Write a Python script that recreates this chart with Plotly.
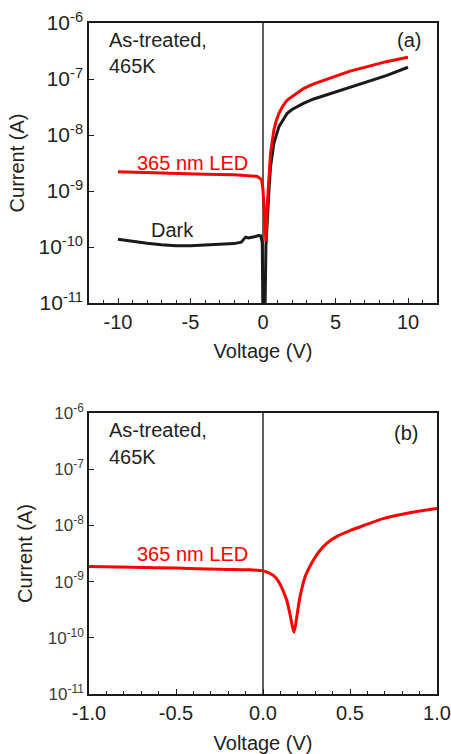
import plotly.graph_objects as go

# ---------------- data ----------------
# Panel (a): dark current
v_dark = [-10, -9, -8, -7, -6, -5, -4, -3, -2, -1.5, -1.2, -1.0, -0.6, -0.3, -0.15,
          -0.05, 0.0, 0.12, 0.2, 0.3, 0.4, 0.52, 0.75, 1.1, 1.4, 1.67, 2.0, 2.4,
          2.82, 3.5, 4.67, 6.0, 7.2, 8.5, 10]
i_dark = [1.38e-10, 1.26e-10, 1.17e-10, 1.10e-10, 1.05e-10, 1.05e-10, 1.07e-10,
          1.12e-10, 1.15e-10, 1.22e-10, 1.5e-10, 1.45e-10, 1.52e-10, 1.6e-10,
          1.58e-10, 1.2e-10, 3e-12, 3e-12, 1.0e-10, 4.0e-10, 9.1e-10, 2.7e-9,
          7.1e-9, 1.41e-8, 1.95e-8, 2.45e-8, 2.85e-8, 3.25e-8, 3.7e-8, 4.4e-8,
          5.5e-8, 7.0e-8, 8.9e-8, 1.15e-7, 1.62e-7]

# Panel (a): 365 nm LED
v_led_a = [-10, -8, -6, -4, -2, -1, -0.4, -0.1, 0.0, 0.1, 0.2, 0.3, 0.4, 0.52,
           0.75, 0.9, 1.1, 1.4, 1.67, 2.0, 2.4, 2.82, 3.5, 4.67, 6.0, 7.2, 8.5, 10]
i_led_a = [2.21e-9, 2.12e-9, 2.05e-9, 2.0e-9, 1.95e-9, 1.88e-9, 1.82e-9, 1.6e-9,
           1.05e-9, 4.0e-10, 1.26e-10, 6.0e-10, 1.82e-9, 4.7e-9, 1.23e-8,
           1.75e-8, 2.45e-8, 3.4e-8, 4.2e-8, 4.85e-8, 5.7e-8, 6.8e-8, 8.2e-8,
           1.05e-7, 1.38e-7, 1.66e-7, 2.04e-7, 2.45e-7]

# Panel (b): 365 nm LED, zoomed voltage range
v_led_b = [-1.0, -0.75, -0.5, -0.25, -0.075, 0.0, 0.03, 0.059, 0.085, 0.107, 0.136,
           0.159, 0.178, 0.197, 0.213, 0.241, 0.265, 0.289, 0.325, 0.366, 0.43,
           0.5, 0.6, 0.69, 0.85, 1.0]
i_led_b = [1.86e-9, 1.8e-9, 1.74e-9, 1.66e-9, 1.62e-9, 1.55e-9, 1.45e-9, 1.29e-9,
           1.05e-9, 7.9e-10, 4.7e-10, 2.3e-10, 1.26e-10, 2.7e-10, 5.4e-10, 1.2e-9,
           1.75e-9, 2.4e-9, 3.5e-9, 4.8e-9, 6.5e-9, 8.1e-9, 1.05e-8, 1.32e-8,
           1.7e-8, 2.0e-8]

x_ticks_a = [-10, -5, 0, 5, 10]
x_ticklabels_a = ["-10", "-5", "0", "5", "10"]
x_ticks_b = [-1.0, -0.5, 0.0, 0.5, 1.0]
x_ticklabels_b = ["-1.0", "-0.5", "0.0", "0.5", "1.0"]
y_ticks = [1e-11, 1e-10, 1e-9, 1e-8, 1e-7, 1e-6]
y_ticklabels = ["10<sup>-11</sup>", "10<sup>-10</sup>", "10<sup>-9</sup>",
                "10<sup>-8</sup>", "10<sup>-7</sup>", "10<sup>-6</sup>"]

RED = "#ff0000"
BLACK = "#1a1a1a"
TXT = "#231f20"
FONT = "Liberation Sans, Arial, sans-serif"

W, H = 451, 754

fig = go.Figure()

fig.add_trace(go.Scatter(x=v_dark, y=i_dark, mode="lines",
                         line=dict(color=BLACK, width=3), xaxis="x", yaxis="y",
                         showlegend=False, name="Dark"))
fig.add_trace(go.Scatter(x=v_led_a, y=i_led_a, mode="lines",
                         line=dict(color=RED, width=3), xaxis="x", yaxis="y",
                         showlegend=False, name="365 nm LED"))
fig.add_trace(go.Scatter(x=v_led_b, y=i_led_b, mode="lines",
                         line=dict(color=RED, width=3, shape="spline", smoothing=0.8),
                         xaxis="x2", yaxis="y2", showlegend=False, name="365 nm LED"))

axis_common = dict(showline=True, linecolor=BLACK, linewidth=1.5, mirror=True,
                   ticks="inside", tickcolor=BLACK, showgrid=False,
                   zeroline=False, color=TXT, automargin=False)

px = lambda v: v / W
py = lambda v: 1 - v / H

fig.update_layout(
    width=W, height=H,
    margin=dict(l=0, r=0, t=0, b=0),
    paper_bgcolor="white", plot_bgcolor="white",
    font=dict(family=FONT, color=TXT),
    xaxis=dict(axis_common, domain=[px(89), px(437)], anchor="y",
               range=[-12, 12], tickvals=x_ticks_a, ticktext=x_ticklabels_a,
               ticklen=5, tickfont=dict(size=20),
               minor=dict(ticks="inside", dtick=1, ticklen=3, tickcolor=BLACK),
               title=dict(text="Voltage (V)", font=dict(size=20), standoff=12)),
    yaxis=dict(axis_common, domain=[py(303), py(23)], anchor="x",
               type="log", range=[-11, -6], tickvals=y_ticks, ticktext=y_ticklabels,
               ticklen=5, tickfont=dict(size=21),
               title=dict(text="Current (A)", font=dict(size=20), standoff=8)),
    xaxis2=dict(axis_common, domain=[px(89), px(437)], anchor="y2",
                range=[-1, 1], tickvals=x_ticks_b, ticktext=x_ticklabels_b,
                ticklen=5, tickfont=dict(size=20),
                minor=dict(ticks="inside", dtick=0.1, ticklen=3, tickcolor=BLACK),
                title=dict(text="Voltage (V)", font=dict(size=20), standoff=15)),
    yaxis2=dict(axis_common, domain=[py(694), py(413)], anchor="x2",
                type="log", range=[-11, -6], tickvals=y_ticks, ticktext=y_ticklabels,
                ticklen=5, tickfont=dict(size=17, color="#3a3a3a"),
                title=dict(text="Current (A)", font=dict(size=20), standoff=10)),
)

# vertical reference line at V = 0 in both panels
for xr, yr in (("x", "y domain"), ("x2", "y2 domain")):
    fig.add_shape(type="line", xref=xr, yref=yr, x0=0, x1=0, y0=0, y1=1,
                  line=dict(color="#2b2b2b", width=1.5), layer="below")

def note(text, x, y, color=TXT, size=20, anchor="left"):
    fig.add_annotation(text=text, xref="paper", yref="paper", x=px(x), y=py(y),
                       xanchor=anchor, yanchor="middle", showarrow=False,
                       font=dict(size=size, color=color, family=FONT))

note("As-treated,", 107, 40)
note("465K", 107, 66)
note("(a)", 423, 40, anchor="right")
note("365 nm LED", 135, 163, color=RED)
note("Dark", 149, 230)

note("As-treated,", 107, 430)
note("465K", 107, 457)
note("(b)", 420, 433, anchor="right")
note("365 nm LED", 135, 554, color=RED)

fig.write_html("out.html")
